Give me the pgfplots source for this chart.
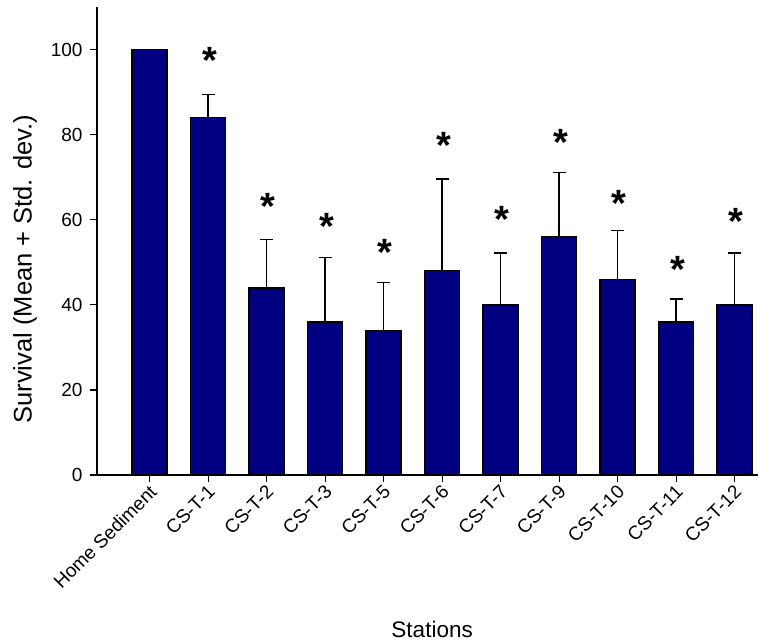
\documentclass[border=0pt]{standalone}
\usepackage{pgfplots}
\pgfplotsset{compat=1.18}
\usepackage{fontspec}
\setmainfont{Liberation Sans}
\definecolor{barnavy}{RGB}{0,0,128}
\begin{document}
\begin{tikzpicture}
\begin{axis}[
  at={(0pt,0pt)}, anchor=south west,
  scale only axis, width=661pt, height=468pt,
  xmin=-0.9, xmax=10.4, ymin=0, ymax=110,
  axis x line*=bottom, axis y line*=left,
  axis line style={-, line width=1.4pt, black},
  clip=false,
  ytick={0,20,40,60,80,100},
  xtick={0,1,2,3,4,5,6,7,8,9,10},
  xticklabels={Home Sediment,CS-T-1,CS-T-2,CS-T-3,CS-T-5,CS-T-6,CS-T-7,CS-T-9,CS-T-10,CS-T-11,CS-T-12},
  tick align=outside,
  major tick length=7pt,
  tick style={line width=1.2pt, black},
  /pgf/number format/assume math mode=true,
  ticklabel style={font=\fontsize{19}{22}\selectfont},
  yticklabel style={xshift=-4pt},
  xticklabel style={rotate=45, anchor=east, inner sep=2pt, xshift=0pt, yshift=-7pt},
  ylabel={Survival (Mean + Std. dev.)},
  xlabel={Stations},
  ylabel style={at={(axis description cs:-0.109,0.44)}, anchor=center, font=\fontsize{25.5}{28}\selectfont},
  xlabel style={at={(axis description cs:0.507,-0.329)}, anchor=center, font=\fontsize{22.5}{26}\selectfont},
]
\addplot[ybar, bar width=0.6, fill=barnavy, draw=black, line width=1.4pt,
  error bars/.cd, y dir=plus, y explicit,
  error bar style={line width=1.3pt, black},
  error mark options={rotate=90, mark size=6.5pt, line width=1.3pt, black}]
coordinates {
  (0,100) +- (0,0)
  (1,84) +- (0,5.4)
  (2,44) +- (0,11.4)
  (3,36) +- (0,15.2)
  (4,34) +- (0,11.3)
  (5,48) +- (0,21.6)
  (6,40) +- (0,12.2)
  (7,56) +- (0,15.1)
  (8,46) +- (0,11.4)
  (9,36) +- (0,5.4)
  (10,40) +- (0,12.2)
};
\addplot[draw=none, mark=none,
  nodes near coords={*},
  every node near coord/.style={anchor=base, yshift=-19pt, xshift=1.5pt, inner sep=0pt,
     font=\fontsize{38}{40}\selectfont\bfseries}]
coordinates {
  (1,98.8) (2,64.6) (3,59.9) (4,53.8) (5,78.9) (6,61.4)
  (7,79.6) (8,65.3) (9,49.7) (10,61.0)
};
\end{axis}
\pgfresetboundingbox
\path[use as bounding box] (-97pt,-168pt) rectangle (663pt,475pt);
\end{tikzpicture}
\end{document}
